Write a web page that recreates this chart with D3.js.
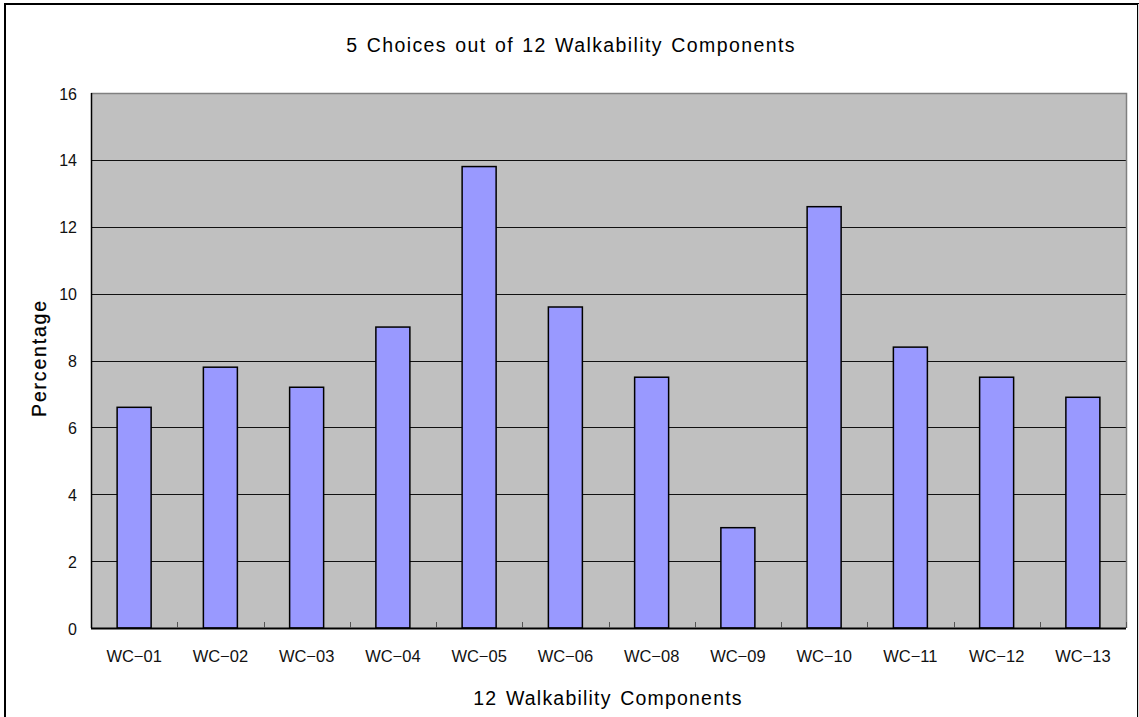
<!DOCTYPE html>
<html><head><meta charset="utf-8">
<script src="https://cdn.jsdelivr.net/npm/d3@7"></script>
<style>body{margin:0;background:#fff}svg{display:block}text{font-family:"Liberation Sans",Arial,sans-serif}</style>
</head><body>
<svg id="c" width="1139" height="717"></svg>
<script>
const categories = ["WC-01","WC-02","WC-03","WC-04","WC-05","WC-06","WC-08","WC-09","WC-10","WC-11","WC-12","WC-13"];
const values = [6.6,7.8,7.2,9.0,13.8,9.6,7.5,3.0,12.6,8.4,7.5,6.9];
const yTicks = [0,2,4,6,8,10,12,14,16];
const title = "5 Choices out of 12 Walkability Components";
const xTitle = "12 Walkability Components";
const yTitle = "Percentage";

const svg = d3.select("#c");
const L = 91, R = 1126, T = 93, B = 628;

// outer frame
svg.append("rect").attr("x",5).attr("y",4).attr("width",1133).attr("height",720)
  .attr("fill","#fff").attr("stroke","#000").attr("stroke-width",2);
svg.append("line").attr("x1",1138.5).attr("x2",1138.5).attr("y1",4).attr("y2",717).attr("stroke","#ddd");

const x = d3.scaleBand().domain(categories).range([L,R]).paddingInner(0).paddingOuter(0);
const y = d3.scaleLinear().domain([0,16]).range([B,T]);

svg.append("rect").attr("x",L).attr("y",T).attr("width",R-L).attr("height",B-T).attr("fill","#c0c0c0");

// gridlines
svg.append("g").selectAll("line").data(yTicks.filter(d=>d>0&&d<16)).join("line")
  .attr("x1",L).attr("x2",R).attr("y1",d=>Math.round(y(d))+0.5).attr("y2",d=>Math.round(y(d))+0.5)
  .attr("stroke","#111").attr("stroke-width",1);

// plot border top/right
svg.append("path").attr("d",`M${L},${T+0.5}H${R+0.5}V${B}`).attr("fill","none").attr("stroke","#808080").attr("stroke-width",1.5);

// bars
const bw = 34;
svg.append("g").selectAll("rect").data(values).join("rect")
  .attr("x",(d,i)=>x(categories[i])+x.bandwidth()/2-bw/2)
  .attr("y",d=>y(d))
  .attr("width",bw)
  .attr("height",d=>B-y(d))
  .attr("fill","#9999ff").attr("stroke","#000").attr("stroke-width",1.5);

// x axis
const xAxis = svg.append("g").attr("transform",`translate(0,${B})`);
xAxis.append("line").attr("x1",L).attr("x2",R).attr("y1",0.5).attr("y2",0.5).attr("stroke","#000").attr("stroke-width",2);
xAxis.selectAll("line.t").data(categories.slice(1)).join("line").attr("class","t")
  .attr("x1",d=>Math.round(x(d))+0.5).attr("x2",d=>Math.round(x(d))+0.5).attr("y1",0).attr("y2",-6)
  .attr("stroke","#555");
xAxis.append("line").attr("x1",R+0.5).attr("x2",R+0.5).attr("y1",0).attr("y2",-6).attr("stroke","#555");
svg.append("g").selectAll("text").data(categories).join("text")
  .attr("x",d=>x(d)+x.bandwidth()/2).attr("y",662)
  .attr("text-anchor","middle").attr("font-size",16.5).attr("fill","#111").text(d=>d.replace("-","\u2212"));

// y axis
svg.append("line").attr("x1",L+0.5).attr("x2",L+0.5).attr("y1",T).attr("y2",B).attr("stroke","#000").attr("stroke-width",1.5);
svg.append("g").selectAll("text").data(yTicks).join("text")
  .attr("x",77).attr("y",d=>y(d)+6.5).attr("text-anchor","end").attr("font-size",16).attr("fill","#111").text(d=>d);

svg.append("text").attr("x",571).attr("y",52).attr("text-anchor","middle").attr("font-size",19.5)
  .attr("letter-spacing",1.4).attr("word-spacing",1.5).attr("fill","#000").text(title);
svg.append("text").attr("x",608).attr("y",705).attr("text-anchor","middle").attr("font-size",19.5)
  .attr("letter-spacing",1.2).attr("word-spacing",2).attr("fill","#000").text(xTitle);
svg.append("text").attr("transform","translate(46,358) rotate(-90)").attr("text-anchor","middle").attr("font-size",19.5)
  .attr("letter-spacing",1.8).attr("stroke","#000").attr("stroke-width",0.25).attr("fill","#000").text(yTitle);
</script>
</body></html>
